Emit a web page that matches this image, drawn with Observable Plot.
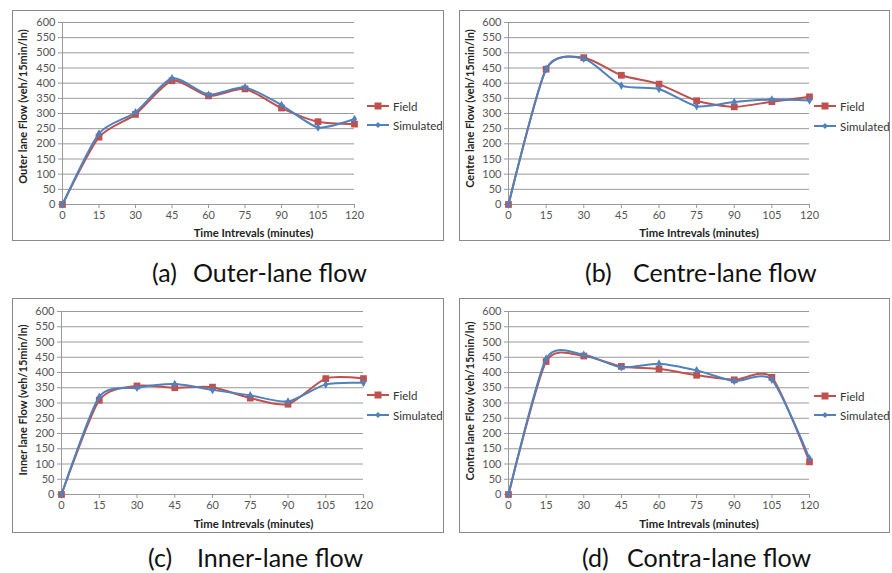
<!DOCTYPE html>
<html>
<head>
<meta charset="utf-8">
<script src="https://cdn.jsdelivr.net/npm/d3@7"></script>
<script src="https://cdn.jsdelivr.net/npm/@observablehq/plot@0.6"></script>
<style>
  html, body { margin: 0; padding: 0; background: #fff; }
  #root { position: relative; width: 892px; height: 573px; overflow: hidden; font-family: Lato, "Open Sans", sans-serif; }
  .panel { position: absolute; }
  .panel .border { position: absolute; inset: 0; border: 1px solid #8a8a8a; box-sizing: border-box; pointer-events: none; }
  .panel svg { position: absolute; left: 0; top: 0; }
  .legend { position: absolute; font-family: Lato, sans-serif; font-size: 11.5px; color: #333; }
  .legend .item { position: absolute; left: 0; white-space: nowrap; display: flex; align-items: center; height: 14px; }
  .legend .item svg { position: static; margin-right: 4px; }
  .cap { position: absolute; font-family: Lato, sans-serif; font-size: 25px; line-height: 25px; color: #111; white-space: nowrap; }
</style>
</head>
<body>
<div id="root"></div>
<script>
// ---- data ----
const times = [0, 15, 30, 45, 60, 75, 90, 105, 120];
const xTicks = [0, 15, 30, 45, 60, 75, 90, 105, 120];
const yTicks = [0, 50, 100, 150, 200, 250, 300, 350, 400, 450, 500, 550, 600];
const seriesNames = ["Field", "Simulated"];

const outerField = [0, 222, 297, 408, 358, 381, 318, 273, 265];
const outerSim   = [0, 234, 304, 416, 362, 386, 328, 254, 282];

const centreField = [0, 446, 484, 426, 397, 342, 322, 339, 355];
const centreSim   = [0, 447, 481, 392, 381, 324, 338, 346, 343];

const innerField = [0, 309, 356, 350, 352, 316, 296, 380, 380];
const innerSim   = [0, 320, 350, 362, 343, 325, 305, 361, 366];

const contraField = [0, 436, 454, 420, 412, 391, 376, 384, 107];
const contraSim   = [0, 445, 458, 417, 429, 407, 372, 376, 118];

const yTitles = [
  "Outer lane Flow (veh/15min/ln)",
  "Centre lane Flow (veh/15min/ln)",
  "Inner lane Flow (veh/15min/ln)",
  "Contra lane Flow (veh/15min/ln)"
];
const xTitle = "Time Intrevals (minutes)";
const captionTags = ["(a)", "(b)", "(c)", "(d)"];
const captionTexts = ["Outer-lane flow", "Centre-lane flow", "Inner-lane flow", "Contra-lane flow"];

const RED = "#C0504D";
const BLUE = "#4F81BD";
const GRID = "#9a9a9a";

// ---- layout (pixels) ----
const panels = [
  {field: outerField, sim: outerSim, left: 12, top: 10, width: 432, height: 231,
   ml: 50, mr: 90, mt: 12, mb: 37, xdx: 45, xdy: 29, ydx: -39, ydy: -7, lg: [96, 115]},
  {field: centreField, sim: centreSim, left: 459, top: 10, width: 431, height: 231,
   ml: 49, mr: 81, mt: 12, mb: 37, xdx: 40, xdy: 29, ydx: -38, ydy: -5, lg: [96, 116]},
  {field: innerField, sim: innerSim, left: 12, top: 298, width: 432, height: 235,
   ml: 49, mr: 81, mt: 13, mb: 39, xdx: 41, xdy: 30, ydx: -38, ydy: -3, lg: [97, 117]},
  {field: contraField, sim: contraSim, left: 459, top: 298, width: 431, height: 235,
   ml: 49, mr: 81, mt: 13, mb: 39, xdx: 40, xdy: 30, ydx: -38, ydy: -2, lg: [98, 117]}
];
const captions = [
  {tagLeft: 152, textLeft: 193, top: 260},
  {tagLeft: 585, textLeft: 633, top: 260},
  {tagLeft: 148, textLeft: 197, top: 545},
  {tagLeft: 582, textLeft: 627, top: 545}
];

const root = document.getElementById("root");

panels.forEach((p, i) => {
  const fieldData = times.map((t, j) => ({t, v: p.field[j]}));
  const simData = times.map((t, j) => ({t, v: p.sim[j]}));

  const chart = Plot.plot({
    width: p.width,
    height: p.height,
    marginLeft: p.ml,
    marginRight: p.mr,
    marginTop: p.mt,
    marginBottom: p.mb,
    style: {fontFamily: "Lato, sans-serif", fontSize: "11px", background: "transparent", overflow: "visible"},
    x: {type: "linear", domain: [0, 120]},
    y: {type: "linear", domain: [0, 600]},
    marks: [
      Plot.gridY(yTicks, {stroke: GRID, strokeOpacity: 1, strokeWidth: 1}),
      Plot.axisY({ticks: yTicks, tickSize: 4, tickPadding: 3, label: null, stroke: GRID, fill: "#555", fontSize: 11}),
      Plot.axisX({ticks: xTicks, tickSize: 4, tickPadding: 3, label: null, stroke: GRID, fill: "#555", fontSize: 11}),
      Plot.ruleX([0], {stroke: GRID}),
      Plot.ruleY([0], {stroke: GRID}),
      Plot.line(fieldData, {x: "t", y: "v", stroke: RED, strokeWidth: 2, curve: "cardinal", tension: 0.3}),
      Plot.dot(fieldData, {x: "t", y: "v", symbol: "square", fill: RED, r: 3.8}),
      Plot.line(simData, {x: "t", y: "v", stroke: BLUE, strokeWidth: 2, curve: "cardinal", tension: 0.3}),
      Plot.dot(simData, {x: "t", y: "v", symbol: "diamond", fill: BLUE, r: 2.6}),
      Plot.text([xTitle], {text: d => d, frameAnchor: "bottom", dx: p.xdx, dy: p.xdy,
        textAnchor: "middle", lineAnchor: "middle",
        fontWeight: "bold", fontSize: 11.3, fill: "#222"}),
      Plot.text([yTitles[i]], {text: d => d, frameAnchor: "left", rotate: -90, dx: p.ydx, dy: p.ydy,
        textAnchor: "middle", lineAnchor: "middle",
        fontWeight: "bold", fontSize: 11, fill: "#222"})
    ]
  });

  const div = document.createElement("div");
  div.className = "panel";
  Object.assign(div.style, {left: p.left + "px", top: p.top + "px", width: p.width + "px", height: p.height + "px"});
  div.appendChild(chart);
  const border = document.createElement("div");
  border.className = "border";
  div.appendChild(border);

  // legend
  const legend = document.createElement("div");
  legend.className = "legend";
  legend.style.left = "355px";
  legend.style.top = "0px";
  seriesNames.forEach((name, k) => {
    const item = document.createElement("div");
    item.className = "item";
    item.style.top = (p.lg[k] - 7) + "px";
    const color = k === 0 ? RED : BLUE;
    const marker = k === 0
      ? `<rect x="7.5" y="3.5" width="7" height="7" fill="${color}"/>`
      : `<path d="M11 4 L14 7 L11 10 L8 7 Z" fill="${color}"/>`;
    item.innerHTML = `<svg width="22" height="14"><line x1="0" x2="22" y1="7" y2="7" stroke="${color}" stroke-width="2"/>${marker}</svg><span>${name}</span>`;
    legend.appendChild(item);
  });
  div.appendChild(legend);
  root.appendChild(div);

  const tag = document.createElement("div");
  tag.className = "cap";
  tag.style.left = captions[i].tagLeft + "px";
  tag.style.top = captions[i].top + "px";
  tag.textContent = captionTags[i];
  root.appendChild(tag);

  const txt = document.createElement("div");
  txt.className = "cap";
  txt.style.left = captions[i].textLeft + "px";
  txt.style.top = captions[i].top + "px";
  txt.textContent = captionTexts[i];
  root.appendChild(txt);
});
</script>
</body>
</html>
